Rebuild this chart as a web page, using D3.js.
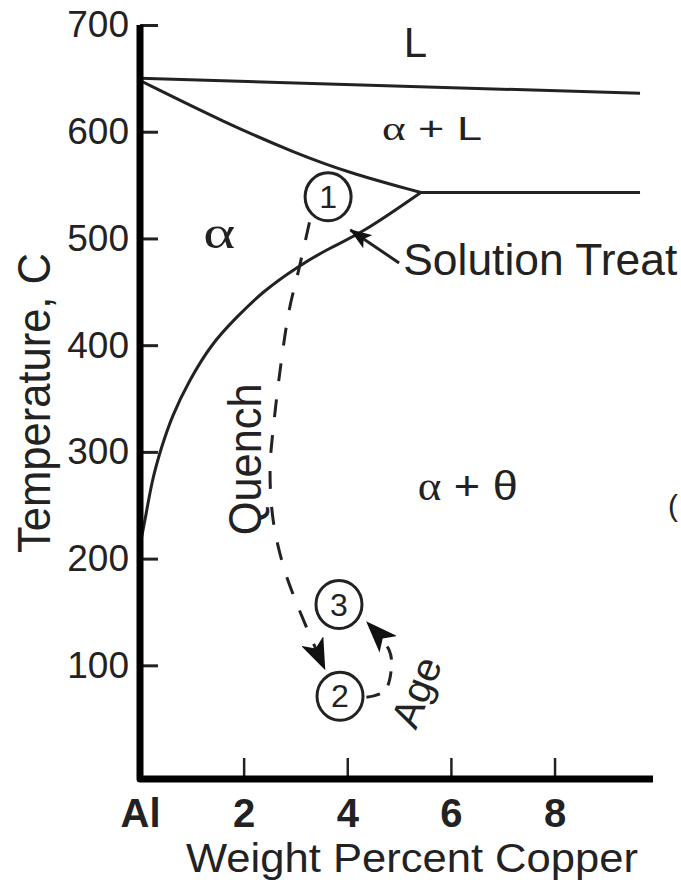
<!DOCTYPE html>
<html>
<head>
<meta charset="utf-8">
<script src="https://cdn.jsdelivr.net/npm/d3@7"></script>
<style>
  body { margin: 0; background: #fff; }
  svg text { font-family: "Liberation Sans", Arial, sans-serif; fill: #222; }
</style>
</head>
<body>
<div id="chart"></div>
<script>
// Al-Cu phase diagram (Al rich corner): [wt% Cu, temperature C]
var liquidus = [[0, 650], [9.65, 636]];
var solidus = [[0, 648], [1.66, 608], [3.0, 580], [4.0, 562], [5.42, 543]];
var eutectic = [[5.42, 543], [9.65, 543]];
var solvus = [[5.42, 543], [4.29, 505], [3.65, 491], [3.02, 473], [2.36, 450], [1.86, 426],
              [1.39, 402], [0.95, 367], [0.62, 334], [0.41, 304], [0.23, 273], [0.12, 242], [0, 212]];

// heat treatment path
var quench = [[3.27, 515], [3.07, 472], [2.88, 433], [2.73, 386], [2.59, 330], [2.51, 283],
              [2.57, 236], [2.76, 194], [3.04, 156], [3.56, 97]];
var age = [[4.37, 70], [4.72, 76], [4.85, 97], [4.81, 114], [4.39, 140]];
var treatArrow = [[5.0, 477], [4.06, 508]];

var steps = [{n: '1', wt: 3.63, t: 539}, {n: '3', wt: 3.84, t: 157}, {n: '2', wt: 3.86, t: 71}];

var regions = [
  {text: 'L', wt: 5.09, t: 670, size: 42, len: null},
  {text: 'α + L', wt: 4.67, t: 592, size: 34, len: 100},
  {text: 'α', wt: 1.22, t: 491, size: 46, len: 32},
  {text: 'α + θ', wt: 5.36, t: 255, size: 40, len: 100},
  {text: 'Solution Treat', wt: 5.08, t: 466, size: 45, len: 274}
];

var xTicks = [0, 2, 4, 6, 8];
var xTickLabels = ['Al', '2', '4', '6', '8'];
var yTicks = [100, 200, 300, 400, 500, 600, 700];

var width = 681, height = 880;

var svg = d3.select('#chart').append('svg')
  .attr('width', width)
  .attr('height', height);

var x = d3.scaleLinear().domain([0, 9.9]).range([140, 653]);
var y = d3.scaleLinear().domain([-6.5, 700]).range([779, 25]);

var defs = svg.append('defs');
defs.append('marker')
  .attr('id', 'bighead')
  .attr('markerUnits', 'userSpaceOnUse')
  .attr('viewBox', '0 0 32 24')
  .attr('refX', 30).attr('refY', 12)
  .attr('markerWidth', 32).attr('markerHeight', 24)
  .attr('orient', 'auto')
  .append('path').attr('d', 'M0,0 L32,12 L0,24 L8,12 Z').attr('fill', '#111');
defs.append('marker')
  .attr('id', 'smallhead')
  .attr('markerUnits', 'userSpaceOnUse')
  .attr('viewBox', '0 0 22 16')
  .attr('refX', 21).attr('refY', 8)
  .attr('markerWidth', 22).attr('markerHeight', 16)
  .attr('orient', 'auto')
  .append('path').attr('d', 'M0,0 L22,8 L0,16 L5,8 Z').attr('fill', '#111');

var line = d3.line().x(function(d) { return x(d[0]); }).y(function(d) { return y(d[1]); });
var smooth = d3.line().curve(d3.curveCatmullRom.alpha(0.5))
  .x(function(d) { return x(d[0]); }).y(function(d) { return y(d[1]); });
var basis = d3.line().curve(d3.curveBasis)
  .x(function(d) { return x(d[0]); }).y(function(d) { return y(d[1]); });

// phase boundaries
svg.append('path').attr('d', line(liquidus)).attr('fill', 'none').attr('stroke', '#222').attr('stroke-width', 3);
svg.append('path').attr('d', basis(solidus)).attr('fill', 'none').attr('stroke', '#222').attr('stroke-width', 3);
svg.append('path').attr('d', line(eutectic)).attr('fill', 'none').attr('stroke', '#222').attr('stroke-width', 3);
svg.append('path').attr('d', basis(solvus)).attr('fill', 'none').attr('stroke', '#222').attr('stroke-width', 3);

// quench and age paths
svg.append('path').attr('d', smooth(quench))
  .attr('fill', 'none').attr('stroke', '#222').attr('stroke-width', 3)
  .attr('stroke-dasharray', '18,18')
  .attr('marker-end', 'url(#bighead)');
svg.append('path').attr('d', smooth(age))
  .attr('fill', 'none').attr('stroke', '#222').attr('stroke-width', 3)
  .attr('stroke-dasharray', '14,12')
  .attr('marker-end', 'url(#bighead)');
svg.append('path').attr('d', line(treatArrow))
  .attr('fill', 'none').attr('stroke', '#222').attr('stroke-width', 3)
  .attr('marker-end', 'url(#smallhead)');

// circled step numbers
var st = svg.selectAll('.step').data(steps).enter().append('g').attr('class', 'step');
st.append('ellipse')
  .attr('cx', function(d) { return x(d.wt); })
  .attr('cy', function(d) { return y(d.t); })
  .attr('rx', 23).attr('ry', 24)
  .attr('fill', '#fff').attr('stroke', '#222').attr('stroke-width', 3);
st.append('text')
  .attr('x', function(d) { return x(d.wt); })
  .attr('y', function(d) { return y(d.t) + 11; })
  .attr('text-anchor', 'middle')
  .attr('font-size', 32)
  .text(function(d) { return d.n; });

// region labels, alpha drawn in a serif face like the original
var rl = svg.selectAll('.region').data(regions).enter().append('text')
  .attr('class', 'region')
  .attr('x', function(d) { return x(d.wt); })
  .attr('y', function(d) { return y(d.t); })
  .attr('font-size', function(d) { return d.size; })
  .attr('textLength', function(d) { return d.len; })
  .attr('lengthAdjust', 'spacingAndGlyphs');
rl.each(function(d) {
  var el = d3.select(this);
  d.text.split(/(α)/).filter(function(s) { return s.length; }).forEach(function(s) {
    var ts = el.append('tspan').text(s);
    if (s === 'α') ts.style('font-family', '"Liberation Serif", "Times New Roman", serif');
  });
});

svg.append('text')
  .attr('transform', 'translate(' + x(2.34) + ',' + y(293) + ') rotate(-90)')
  .attr('text-anchor', 'middle')
  .attr('font-size', 46)
  .attr('textLength', 152).attr('lengthAdjust', 'spacingAndGlyphs')
  .text('Quench');

svg.append('text')
  .attr('transform', 'translate(' + x(5.33) + ',' + y(75) + ') rotate(-68)')
  .attr('text-anchor', 'middle')
  .attr('dominant-baseline', 'central')
  .attr('font-size', 40)
  .attr('textLength', 72).attr('lengthAdjust', 'spacingAndGlyphs')
  .text('Age');

svg.append('text')
  .attr('x', 668).attr('y', 516)
  .attr('font-size', 30)
  .text('(');

// axes
var yAxis = d3.axisLeft(y).tickValues(yTicks).tickSizeInner(-18).tickSizeOuter(0).tickPadding(11);
var gy = svg.append('g').attr('transform', 'translate(' + x(0) + ',0)').call(yAxis);
gy.select('.domain').remove();
gy.selectAll('.tick line').attr('stroke', '#222').attr('stroke-width', 3);
gy.selectAll('.tick text').attr('font-size', 37).attr('fill', '#333')
  .attr('font-family', '"Liberation Sans", Arial, sans-serif');

var xAxis = d3.axisBottom(x).tickValues(xTicks)
  .tickFormat(function(d, i) { return xTickLabels[i]; })
  .tickSizeInner(-21).tickSizeOuter(0).tickPadding(20);
var gx = svg.append('g').attr('transform', 'translate(0,' + y(-6.5) + ')').call(xAxis);
gx.select('.domain').remove();
gx.selectAll('.tick line').attr('stroke', '#222').attr('stroke-width', 2.5);
gx.selectAll('.tick text').attr('font-size', 40).attr('font-weight', 'bold').attr('fill', '#111')
  .attr('font-family', '"Liberation Sans", Arial, sans-serif');

// heavy axis lines
svg.append('path')
  .attr('d', line([[0, 700], [0, -6.5], [9.9, -6.5]]))
  .attr('fill', 'none').attr('stroke', '#000').attr('stroke-width', 7)
  .attr('stroke-linejoin', 'round');

// axis titles
svg.append('text')
  .attr('x', 412).attr('y', 872)
  .attr('text-anchor', 'middle')
  .attr('font-size', 40)
  .attr('textLength', 452).attr('lengthAdjust', 'spacingAndGlyphs')
  .text('Weight Percent Copper');

svg.append('text')
  .attr('transform', 'translate(50,403) rotate(-90)')
  .attr('text-anchor', 'middle')
  .attr('font-size', 46)
  .attr('textLength', 300).attr('lengthAdjust', 'spacingAndGlyphs')
  .text('Temperature, C');
</script>
</body>
</html>
